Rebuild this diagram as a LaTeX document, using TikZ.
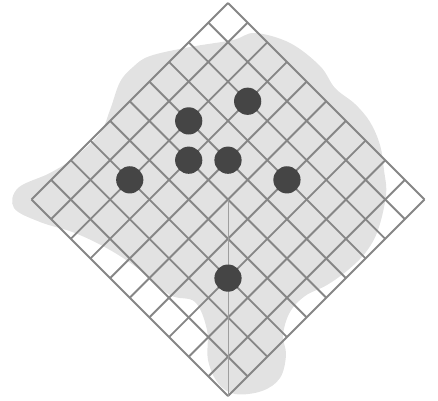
\documentclass[tikz,border=0pt]{standalone}
\definecolor{boardline}{HTML}{868686}
\definecolor{boardshade}{HTML}{E2E2E2}
\definecolor{stoneink}{HTML}{454545}

\begin{document}
\begin{tikzpicture}[
        x=0.025cm,y=-0.025cm,
        gridline/.style={draw=boardline,line width=1.35pt},
        axisline/.style={draw=boardline!80,line width=.5pt},
        stone/.style={circle,fill=stoneink,minimum size=0.68cm,inner sep=0pt}
      ]
        \useasboundingbox (0,0) rectangle (438,400);
        \def\cell{19.65}
        % shaded area behind the board
        \fill[boardshade] plot[smooth cycle,tension=.6] coordinates {
          (133,67) (150,56) (190,47) (233,40) (255,33) (290,43) (320,66)
          (335,88) (355,104) (370,122) (380,145) (384,170) (386,195)
          (378,230) (366,252) (348,270) (327,285) (305,296) (290,312)
          (283,335) (286,355) (280,378) (262,391) (235,394) (218,383)
          (208,360) (207,330) (195,302) (170,295) (140,270) (110,250)
          (75,233) (40,222) (14,208) (18,188) (50,173) (75,157)
          (100,133) (110,110) (120,82)};

        % board
        \foreach \k in {0,...,10}{
          \draw[gridline] ({228-\k*\cell},{3+\k*\cell})
            -- ({228+(10-\k)*\cell},{3+(10+\k)*\cell});
          \draw[gridline] ({228+\k*\cell},{3+\k*\cell})
            -- ({228+(\k-10)*\cell},{3+(\k+10)*\cell});
        }
        \coordinate (centre) at (228,{3+10*\cell});
        \coordinate (bottom) at (228,{3+20*\cell});
        \draw[axisline] (centre) -- (bottom);

        % stones
        \node[stone] (s1) at ({228+1*\cell},{3+5*\cell}) {};
        \node[stone] (s2) at ({228-2*\cell},{3+6*\cell}) {};
        \node[stone] (s3) at ({228-2*\cell},{3+8*\cell}) {};
        \node[stone] (s4) at (228,{3+8*\cell}) {};
        \node[stone] (s5) at ({228-5*\cell},{3+9*\cell}) {};
        \node[stone] (s6) at ({228+3*\cell},{3+9*\cell}) {};
        \node[stone] (s7) at (228,{3+14*\cell}) {};
      \end{tikzpicture}
\end{document}
